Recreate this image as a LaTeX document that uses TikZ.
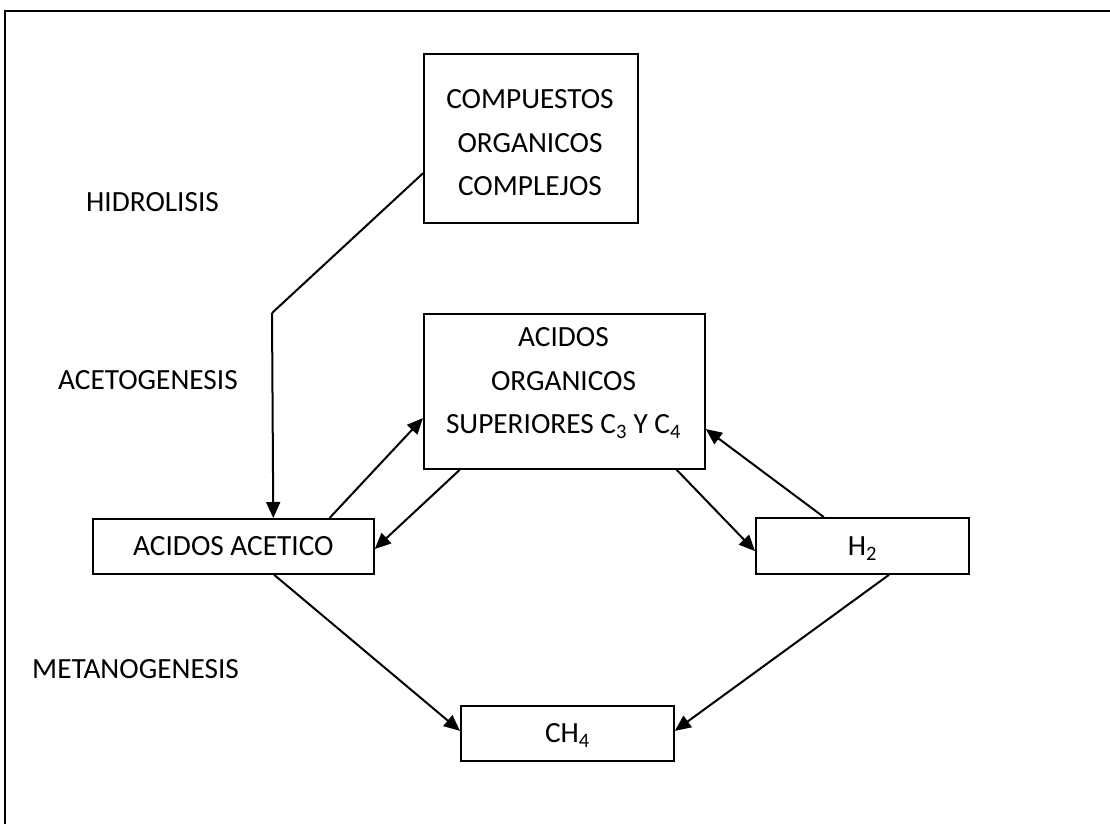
\documentclass[tikz,border=0pt]{standalone}
\usepackage{fontspec}
\setmainfont{Carlito}
\usetikzlibrary{arrows.meta,calc}
\begin{document}
\begin{tikzpicture}[x=1pt,y=-1pt,
  every node/.style={font=\fontsize{29.3pt}{43.5pt}\selectfont},
  box/.style={draw,line width=1.8pt,inner sep=0pt,anchor=north west,
    text height=19pt,text depth=0pt},
  body/.style={align=center,inner sep=0pt},
  stage/.style={anchor=base west,inner sep=0pt},
  conn/.style={line width=2pt,-{Triangle[length=16pt,width=14pt]}},
  wire/.style={line width=2pt}]

  % page area and outer frame
  \useasboundingbox (0,0) rectangle (1110,823);
  \clip (0,0) rectangle (1110,823);
  \fill[white] (0,0) rectangle (1110,823);
  \draw[line width=2.4pt] (5,11) rectangle (1130,850);

  % process boxes
  \node[box,minimum width=214pt,minimum height=169pt] (comp) at (423,53) {};
  \node[body] (comptext) at (530,143) {COMPUESTOS\\ORGANICOS\\COMPLEJOS};

  \node[box,minimum width=281pt,minimum height=155pt] (org) at (423,313) {};
  \node[body] (orgtext) at (563.5,383)
    {ACIDOS\\ORGANICOS\\SUPERIORES C\textsubscript{3} Y C\textsubscript{4}};

  \node[box,minimum width=281pt,minimum height=55pt] (acet) at (92,518) {ACIDOS ACETICO};
  \node[box,minimum width=213pt,minimum height=56pt] (htwo) at (755,517) {H\textsubscript{2}};
  \node[box,minimum width=213pt,minimum height=55pt] (meth) at (460,705) {CH\textsubscript{4}};

  % stage labels
  \node[stage] (hidro) at (86,211.5) {HIDROLISIS};
  \node[stage] (aceto) at (58,389) {ACETOGENESIS};
  \node[stage] (metano) at (32,678.5) {METANOGENESIS};

  % hydrolysis path
  \coordinate (bend) at (272,313);
  \draw[wire] ($(comp.north west)!0.704!(comp.south west)$) -- (bend);
  \draw[conn] (bend) -- ($(acet.north west)!0.641!(acet.north east)$);

  % acetogenesis exchanges
  \draw[conn] ($(acet.north west)!0.84!(acet.north east)$)
           -- ($(org.north west)!0.67!(org.south west)$);
  \draw[conn] ($(org.south west)!0.13!(org.south east)$)
           -- ($(acet.north east)!0.545!(acet.south east)$);
  \draw[conn] ($(org.south west)!0.897!(org.south east)$)
           -- ($(htwo.north west)!0.59!(htwo.south west)$);
  \draw[conn] ($(htwo.north west)!0.32!(htwo.north east)$)
           -- ($(org.north east)!0.74!(org.south east)$);

  % methanogenesis
  \draw[conn] ($(acet.south west)!0.644!(acet.south east)$)
           -- ($(meth.north west)!0.455!(meth.south west)$);
  \draw[conn] ($(htwo.south west)!0.624!(htwo.south east)$)
           -- ($(meth.north east)!0.455!(meth.south east)$);
\end{tikzpicture}
\end{document}
